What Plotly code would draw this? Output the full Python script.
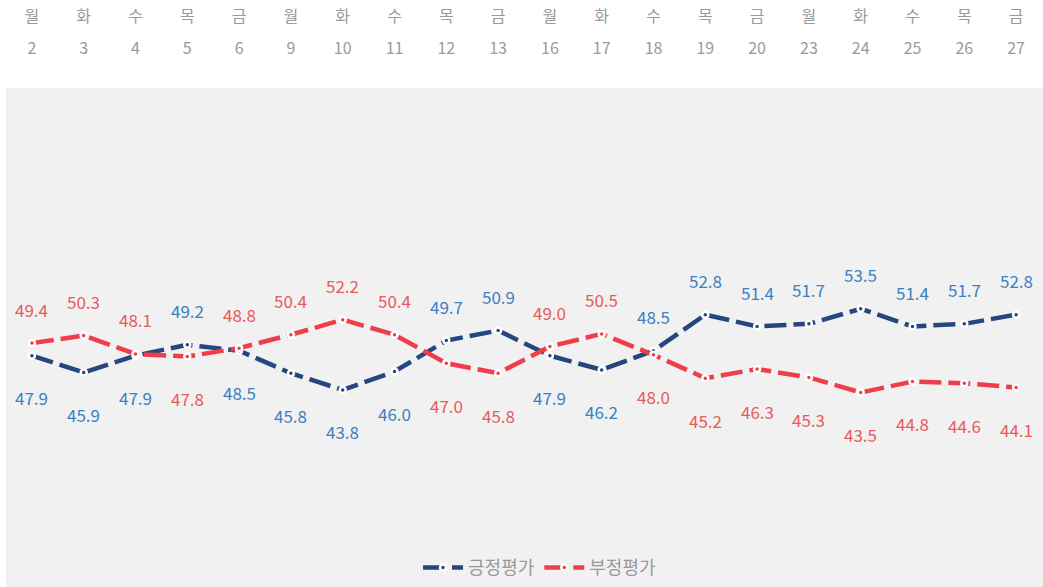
import plotly.graph_objects as go

days = ["월", "화", "수", "목", "금"] * 4
dates = ["2", "3", "4", "5", "6", "9", "10", "11", "12", "13",
         "16", "17", "18", "19", "20", "23", "24", "25", "26", "27"]
positive = [47.9, 45.9, 47.9, 49.2, 48.5, 45.8, 43.8, 46.0, 49.7, 50.9,
            47.9, 46.2, 48.5, 52.8, 51.4, 51.7, 53.5, 51.4, 51.7, 52.8]
negative = [49.4, 50.3, 48.1, 47.8, 48.8, 50.4, 52.2, 50.4, 47.0, 45.8,
            49.0, 50.5, 48.0, 45.2, 46.3, 45.3, 43.5, 44.8, 44.6, 44.1]
series_names = ["긍정평가", "부정평가"]

BLUE_LINE = "#25467e"
RED_LINE = "#ef3e4a"
BLUE_TEXT = "#3c80c0"
RED_TEXT = "#e95a5c"
FONT = "Noto Sans CJK KR"

xs = list(range(len(dates)))

fig = go.Figure()
for vals, name, col, xa in [(positive, series_names[0], BLUE_LINE, "x"),
                            (negative, series_names[1], RED_LINE, "x2")]:
    fig.add_trace(go.Scatter(
        x=xs, y=vals, name=name, mode="lines+markers", xaxis=xa, yaxis="y",
        line=dict(color=col, width=4.5, dash="22px,7px"),
        marker=dict(color=col, size=6, line=dict(color="white", width=2.5)),
        hoverinfo="skip",
    ))

annotations = []
for i, (p, n) in enumerate(zip(positive, negative)):
    p_up = p > n
    annotations.append(dict(x=i, y=p, xref="x", yref="y", text=f"{p:.1f}",
                            showarrow=False, yshift=34 if p_up else -42,
                            font=dict(family=FONT, size=17, color=BLUE_TEXT)))
    annotations.append(dict(x=i, y=n, xref="x", yref="y", text=f"{n:.1f}",
                            showarrow=False, yshift=-42 if p_up else 34,
                            font=dict(family=FONT, size=17, color=RED_TEXT)))

tickfont = dict(family=FONT, size=16, color="#9a9a9a")
fig.update_layout(
    width=1043, height=587,
    margin=dict(l=6, r=1, t=88, b=47),
    paper_bgcolor="white",
    plot_bgcolor="#f1f1f1",
    showlegend=True,
    legend=dict(orientation="h", x=0.515, xanchor="center", y=-0.025, yanchor="top",
                font=dict(family=FONT, size=18, color="#999999"),
                bgcolor="rgba(0,0,0,0)", itemwidth=40, tracegroupgap=0),
    xaxis=dict(side="top", range=[-0.5, 19.5], tickvals=xs, ticktext=dates,
               showgrid=False, zeroline=False, showline=False, ticks="",
               tickfont=tickfont, ticklabelstandoff=30),
    xaxis2=dict(side="top", overlaying="x", matches="x", tickvals=xs, ticktext=days,
                showgrid=False, zeroline=False, showline=False, ticks="",
                tickfont=tickfont, ticklabelstandoff=62),
    yaxis=dict(range=[26.1, 79.9], visible=False, showgrid=False, zeroline=False),
    annotations=annotations,
    shapes=[dict(type="rect", xref="paper", yref="paper", x0=0, x1=1.01,
                 y0=-0.11, y1=1, fillcolor="#f1f1f1", line=dict(width=0), layer="below")],
)

fig.write_html("out.html", config={"displayModeBar": False},
               post_script="document.body.style.margin='0';")
